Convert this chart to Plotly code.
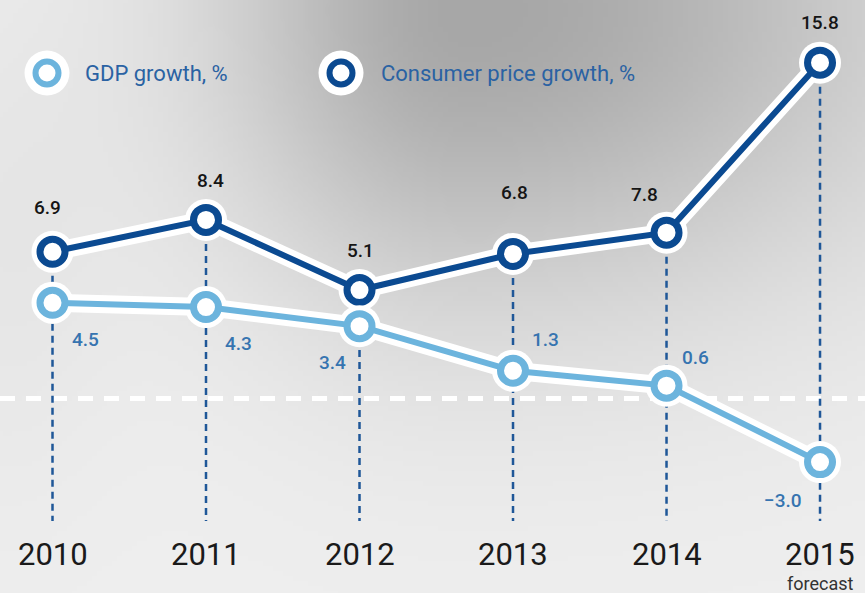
import base64
import struct
import zlib

import numpy as np
import plotly.graph_objects as go

# ---------------- data ----------------
years = [2010, 2011, 2012, 2013, 2014, 2015]
year_labels = ["2010", "2011", "2012", "2013", "2014", "2015"]
gdp_growth = [4.5, 4.3, 3.4, 1.3, 0.6, -3.0]
cpi_growth = [6.9, 8.4, 5.1, 6.8, 7.8, 15.8]
series_names = ["GDP growth, %", "Consumer price growth, %"]
forecast_note = "forecast"

# ---------------- style ----------------
W, H = 865, 593
X_RANGE = [2009.658, 2015.293]
Y_RANGE = [-9.16, 18.75]
DROP_BOTTOM = -5.77
DARK = "#0b4a91"
LIGHT = "#6cb4dd"
DROP_COLOR = "#1f5798"
GDP_TEXT = "#3674b0"
LEGEND_TEXT = "#2a62a3"
FONT = "Roboto, 'Noto Sans', sans-serif"

cpi_label_offsets = [(-5, 44), (4, 39), (1, 40), (1, 61), (-22, 38), (0, 40)]
gdp_label_offsets = [(33, -37), (32, -36), (-27, -36), (32, 31), (29, 28), (-37, -38)]


def px_x(px):
    return px / W


def px_y(py):
    return 1 - py / H


# ---------------- background gradient (decoration) ----------------
def gradient_png(w, h):
    xs = (np.arange(w) + 0.5) * W / w
    ys = (np.arange(h) + 0.5) * H / h
    X, Y = np.meshgrid(xs, ys)
    dx = X - 470.0
    dy = Y - 10.0
    sx = np.where(dx < 0, 250.0, 450.0)
    sy = 290.0
    val = 239.0 - 72.0 * np.exp(-(dx ** 2 / sx ** 2 + dy ** 2 / sy ** 2))
    val -= 8.0 * np.exp(-(X / 120.0) ** 2) * np.exp(-((Y - 250) / 250.0) ** 2)
    arr = np.clip(val, 0, 255).astype(np.uint8)
    raw = b"".join(b"\x00" + arr[r].tobytes() for r in range(h))

    def chunk(tag, data):
        c = struct.pack(">I", len(data)) + tag + data
        return c + struct.pack(">I", zlib.crc32(tag + data) & 0xFFFFFFFF)

    png = b"\x89PNG\r\n\x1a\n"
    png += chunk(b"IHDR", struct.pack(">IIBBBBB", w, h, 8, 0, 0, 0, 0))
    png += chunk(b"IDAT", zlib.compress(raw, 9))
    png += chunk(b"IEND", b"")
    return "data:image/png;base64," + base64.b64encode(png).decode()


fig = go.Figure()

# zero reference line (white dashed)
fig.add_trace(go.Scatter(
    x=X_RANGE, y=[0, 0], mode="lines",
    line=dict(color="white", width=5, dash="15px,11px"),
    hoverinfo="skip",
))

# vertical dashed drop lines
drop_x, drop_y = [], []
for yr, c, g in zip(years, cpi_growth, gdp_growth):
    drop_x += [yr, yr, None]
    drop_y += [max(c, g), DROP_BOTTOM, None]
fig.add_trace(go.Scatter(
    x=drop_x, y=drop_y, mode="lines",
    line=dict(color=DROP_COLOR, width=2.5, dash="7px,5px"),
    hoverinfo="skip",
))

# series: CPI first, GDP on top
for vals, color, name in [(cpi_growth, DARK, series_names[1]), (gdp_growth, LIGHT, series_names[0])]:
    fig.add_trace(go.Scatter(
        x=years, y=vals, mode="lines+markers",
        line=dict(color="white", width=18),
        marker=dict(size=42, color="white", line=dict(width=0)),
        hoverinfo="skip",
    ))
    fig.add_trace(go.Scatter(
        x=years, y=vals, mode="lines+markers", name=name,
        line=dict(color=color, width=6),
        marker=dict(size=25, color="white", line=dict(color=color, width=7)),
    ))


def fmt(v):
    return f"{v:.1f}".replace("-", "\u2212")


annotations = []
for yr, v, (dx, dy) in zip(years, cpi_growth, cpi_label_offsets):
    annotations.append(dict(
        x=yr, y=v, xref="x", yref="y", text=fmt(v), showarrow=False,
        xshift=dx, yshift=dy,
        font=dict(family=FONT, size=19, color="#151515", weight=500),
    ))
for yr, v, (dx, dy) in zip(years, gdp_growth, gdp_label_offsets):
    annotations.append(dict(
        x=yr, y=v, xref="x", yref="y", text=fmt(v), showarrow=False,
        xshift=dx, yshift=dy,
        font=dict(family=FONT, size=19, color=GDP_TEXT, weight=500),
    ))

# year labels
for yr, lab in zip(years, year_labels):
    annotations.append(dict(
        x=yr, y=px_y(554), xref="x", yref="paper", text=lab, showarrow=False,
        yanchor="middle", font=dict(family=FONT, size=31, color="#1a1a1a"),
    ))
annotations.append(dict(
    x=years[-1], y=px_y(583), xref="x", yref="paper", text=forecast_note,
    showarrow=False, yanchor="middle", font=dict(family=FONT, size=18, color="#333333"),
))

# custom legend
shapes = []
legend_items = [(47, 73, LIGHT, series_names[0], 83), (341, 73, DARK, series_names[1], 379)]
for cx, cy, color, name, tx in legend_items:
    r = 22.5
    shapes.append(dict(type="circle", xref="paper", yref="paper",
                       x0=px_x(cx - r), x1=px_x(cx + r), y0=px_y(cy + r), y1=px_y(cy - r),
                       fillcolor="white", line=dict(width=0)))
    r2 = 11.5
    shapes.append(dict(type="circle", xref="paper", yref="paper",
                       x0=px_x(cx - r2), x1=px_x(cx + r2), y0=px_y(cy + r2), y1=px_y(cy - r2),
                       fillcolor="white", line=dict(color=color, width=6)))
    annotations.append(dict(
        x=px_x(tx), y=px_y(cy), xref="paper", yref="paper", text=name,
        showarrow=False, xanchor="left", yanchor="middle",
        font=dict(family=FONT, size=22, color=LEGEND_TEXT),
    ))

fig.update_layout(
    width=W, height=H,
    margin=dict(l=0, r=0, t=0, b=0),
    paper_bgcolor="#ececec",
    plot_bgcolor="rgba(0,0,0,0)",
    showlegend=False,
    xaxis=dict(range=X_RANGE, visible=False, fixedrange=True),
    yaxis=dict(range=Y_RANGE, visible=False, fixedrange=True),
    annotations=annotations,
    shapes=shapes,
    images=[dict(source=gradient_png(173, 119), xref="paper", yref="paper",
                 x=0, y=1, sizex=1, sizey=1, xanchor="left", yanchor="top",
                 sizing="stretch", layer="below")],
    hovermode=False,
)

fig.write_html(
    "out.html",
    config={"displayModeBar": False},
    post_script="document.body.style.margin='0';document.body.style.padding='0';document.body.style.overflow='hidden';",
)
